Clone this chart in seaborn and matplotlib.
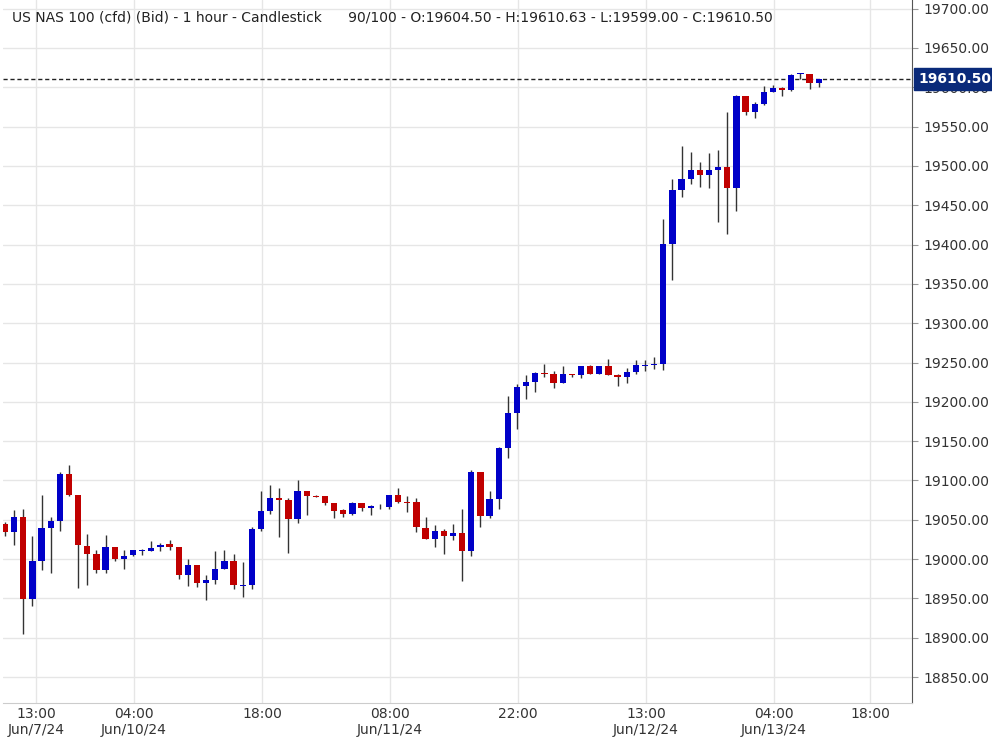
import numpy as np
import matplotlib
matplotlib.use("Agg")
import matplotlib.pyplot as plt
import seaborn as sns

opens = [19044,19034,19053,18949,18998,19040,19049,19108,19081,19017,19006,18986,19015,19000,19005,19010,19010,19015,19019,
         19016,18980,18992,18970,18973,18988,18998,18966,18967,19038,19061,19078,19075,19051,19087,19080,19080,19071,
         19062,19057,19071,19065,19070,19066,19082,19072,19072,19040,19025,19036,19029,19033,19010,19111,19055,19076,19141,19186,
         19220,19225,19236,19235,19224,19235,19234,19245,19235,19245,19234,19232,19238,19246,19247,
         19248,19401,19470,19484,19495,19488,19495,19498,19472,19589,19568,19579,19594,19599,19597,19617,19617,19606]
highs = [19047,19063,19064,19029,19082,19053,19111,19120,19081,19032,19011,19031,19016,19012,19011,19013,19023,19021,19024,
         19016,19000,18993,18980,19010,19012,19007,18996,19041,19086,19094,19090,19078,19101,19087,19081,19080,19071,
         19064,19073,19071,19069,19070,19082,19090,19080,19078,19053,19043,19038,19044,19064,19113,19111,19087,19142,19208,19223,
         19234,19238,19248,19239,19245,19236,19245,19247,19245,19254,19236,19243,19253,19253,19257,
         19433,19483,19525,19518,19505,19516,19520,19568,19590,19589,19581,19602,19603,19600,19617,19618,19617,19611]
lows = [19029,19018,18905,18940,18986,18982,19036,19080,18963,18967,18982,18982,18997,18988,19004,19005,19010,19010,19011,
        18975,18966,18964,18948,18968,18988,18962,18952,18962,19036,19057,19028,19008,19046,19056,19079,19069,19052,
        19053,19056,19061,19056,19064,19064,19071,19060,19034,19025,19015,19006,19024,18972,19004,19041,19052,19064,19129,19165,
        19203,19212,19232,19217,19224,19232,19230,19235,19235,19234,19220,19224,19235,19239,19242,
        19240,19355,19461,19477,19473,19472,19429,19414,19443,19565,19561,19577,19594,19589,19595,19611,19598,19600]
closes = [19034,19053,18949,18998,19040,19049,19108,19081,19018,19007,18986,19015,19000,19004,19011,19010.5,19014,19018,19016,
          18980,18992,18970,18973,18988,18998,18967,18967,19038,19061,19078,19075,19051,19087,19080,19079.5,19071,19061,
          19057,19071,19065,19067,19069.5,19082,19072,19071.5,19041,19025,19036,19029,19033,19010,19111,19055,19076,19141,19186,19219,
          19225,19237,19235.5,19224,19235,19234,19245,19235,19245,19234,19232,19238,19247,19247,19248,
          19401,19470,19484,19495,19488,19495,19498,19472,19589,19568,19579,19594,19599,19597,19616,19617.5,19605,19610.5]

tick_pos = [3.4, 14.1, 28.1, 42.1, 56.1, 70.1, 84.1, 94.6]
tick_labels = ["13:00\nJun/7/24", "04:00\nJun/10/24", "18:00", "08:00\nJun/11/24", "22:00",
               "13:00\nJun/12/24", "04:00\nJun/13/24", "18:00"]
yticks = [18850, 18900, 18950, 19000, 19050, 19100, 19150, 19200, 19250, 19300, 19350,
          19400, 19450, 19500, 19550, 19600, 19650, 19700]
title = ("US NAS 100 (cfd) (Bid) - 1 hour - Candlestick      90/100 - O:19604.50 - "
         "H:19610.63 - L:19599.00 - C:19610.50")
last = 19610.50

sns.set_style("whitegrid", {"grid.color": "#e6e6e6", "axes.edgecolor": "#cccccc"})
plt.rcParams['font.family'] = ['DejaVu Sans']

fig = plt.figure(figsize=(9.92, 7.37), dpi=100)
ax = fig.add_axes([3/992, 34/737, 909/992, 703/737])

o = np.array(opens, float); h = np.array(highs, float)
l = np.array(lows, float); c = np.array(closes, float)
x = np.arange(len(o))
up = c >= o
cols = np.where(up, "#0000c8", "#c00000")
ax.vlines(x, l, h, color="#333333", lw=1.0, zorder=2)
bottom = np.minimum(o, c)
height = np.maximum(np.abs(c - o), 1.2)
ax.bar(x, height, bottom=bottom, width=0.68, color=cols, zorder=3, linewidth=0)

ax.axhline(last, color="#222222", ls=(0, (3, 2)), lw=1, zorder=1)

ax.set_xlim(-0.22, 99.2)
ax.set_ylim(18817, 19711)
ax.set_xticks(tick_pos)
ax.set_xticklabels(tick_labels, fontsize=10, color="#333333")
ax.set_yticks(yticks)
ax.set_yticklabels([f"{v:.2f}" for v in yticks], fontsize=10, color="#333333")
ax.yaxis.tick_right()
ax.tick_params(axis="y", length=4, color="#999999", pad=4)
ax.tick_params(axis="x", length=0, pad=3)
for s in ["top", "left"]:
    ax.spines[s].set_visible(False)
ax.spines["right"].set_color("#555555")
ax.spines["bottom"].set_color("#cccccc")
ax.grid(True, color="#e6e6e6", lw=1)

ax.text(0.01, 0.975, title, transform=ax.transAxes, fontsize=10, color="#222222",
        va="center", ha="left")
ax.text(1.007, (last - 18817) / (19711 - 18817), f"{last:.2f}", transform=ax.transAxes,
        fontsize=10, color="white", fontweight="bold", va="center", ha="left",
        bbox=dict(boxstyle="square,pad=0.3", fc="#0a2a7a", ec="#0a2a7a"), zorder=10, clip_on=False)

fig.savefig("out.png", dpi=100)
